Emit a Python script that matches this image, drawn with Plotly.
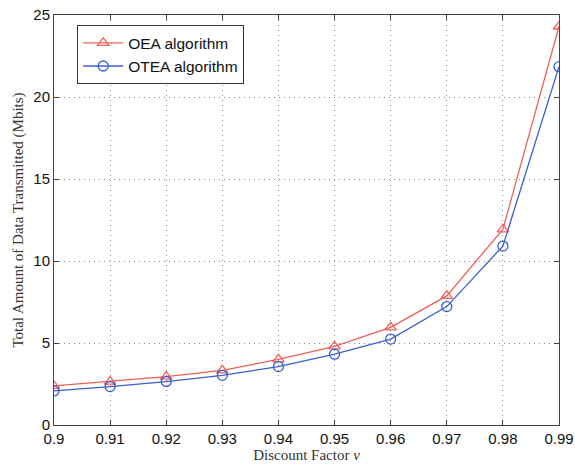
import plotly.graph_objects as go

nu = [0.90, 0.91, 0.92, 0.93, 0.94, 0.95, 0.96, 0.97, 0.98, 0.99]
oea = [2.38, 2.65, 2.95, 3.33, 4.0, 4.8, 5.95, 7.87, 11.93, 24.3]
otea = [2.08, 2.34, 2.65, 3.03, 3.56, 4.32, 5.24, 7.22, 10.91, 21.85]
x_ticks = [0.9, 0.91, 0.92, 0.93, 0.94, 0.95, 0.96, 0.97, 0.98, 0.99]
x_labels = ["0.9", "0.91", "0.92", "0.93", "0.94", "0.95", "0.96", "0.97", "0.98", "0.99"]
y_ticks = [0, 5, 10, 15, 20, 25]

red = "#f0605a"
blue = "#3c5fd0"

fig = go.Figure()
fig.add_trace(go.Scatter(x=nu, y=oea, mode="lines+markers", name="OEA algorithm",
                         line=dict(color=red, width=1.3),
                         marker=dict(symbol="triangle-up-open", size=10, color=red, line=dict(width=1.3))))
fig.add_trace(go.Scatter(x=nu, y=otea, mode="lines+markers", name="OTEA algorithm",
                         line=dict(color=blue, width=1.3),
                         marker=dict(symbol="circle-open", size=10, color=blue, line=dict(width=1.3))))

axis_common = dict(showline=True, linecolor="#444", linewidth=1, mirror="ticks",
                   ticks="inside", ticklen=5, tickcolor="#444",
                   showgrid=True, gridcolor="#8a8a8a", griddash="1px,4px", gridwidth=1.3,
                   zeroline=False, automargin=False,
                   tickfont=dict(family="Liberation Sans, Arial", size=15, color="#111"))

fig.update_xaxes(range=[0.9, 0.99], tickvals=x_ticks, ticktext=x_labels,
                 title=dict(text="Discount Factor <i>ν</i>", standoff=2,
                            font=dict(family="Liberation Serif, Times New Roman", size=15, color="#333")),
                 **axis_common)
fig.update_yaxes(range=[0, 25], tickvals=y_ticks,
                 title=dict(text="Total Amount of Data Transmitted (Mbits)", standoff=6,
                            font=dict(family="Liberation Serif, Times New Roman", size=15, color="#333")),
                 **axis_common)

fig.update_layout(width=575, height=464,
                  margin=dict(l=54, r=16, t=15, b=39),
                  paper_bgcolor="white", plot_bgcolor="white",
                  legend=dict(x=0.046, y=0.975, xanchor="left", yanchor="top",
                              bgcolor="white", bordercolor="#333", borderwidth=1,
                              font=dict(family="Liberation Sans, Arial", size=15.5, color="#111"),
                              tracegroupgap=0, itemwidth=40))

fig.write_html("out.html")
